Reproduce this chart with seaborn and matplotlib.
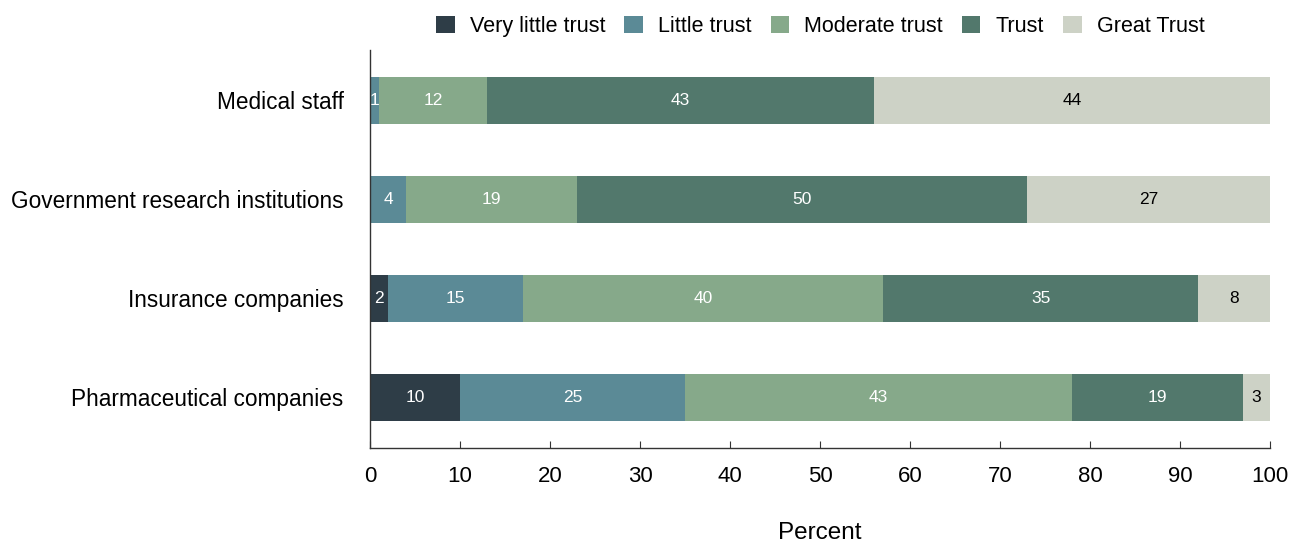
import numpy as np
import pandas as pd
import matplotlib
matplotlib.use("Agg")
import matplotlib.pyplot as plt
import seaborn as sns

categories = ["Medical staff", "Government research institutions",
              "Insurance companies", "Pharmaceutical companies"]
levels = ["Very little trust", "Little trust", "Moderate trust", "Trust", "Great Trust"]
very_little = [0, 0, 2, 10]
little = [1, 4, 15, 25]
moderate = [12, 19, 40, 43]
trust = [43, 50, 35, 19]
great = [44, 27, 8, 3]
colors = ["#2e3d47", "#5b8a96", "#86a98a", "#52786c", "#cdd2c6"]
text_colors = ["white", "white", "white", "white", "black"]

sns.set_style("ticks")
plt.rcParams["font.family"] = ["Liberation Sans", "DejaVu Sans"]
plt.rcParams["text.color"] = "black"
plt.rcParams["xtick.color"] = "black"
plt.rcParams["ytick.color"] = "black"
plt.rcParams["axes.labelcolor"] = "black"

df = pd.DataFrame({"category": categories, levels[0]: very_little, levels[1]: little,
                   levels[2]: moderate, levels[3]: trust, levels[4]: great})
cum = df[levels].cumsum(axis=1)

fig, ax = plt.subplots(figsize=(13, 5.43), dpi=100)
fig.subplots_adjust(left=0.2846, right=0.977, bottom=0.175, top=0.908)

# draw cumulative totals from the largest down so the segments stack
for lvl, col in reversed(list(zip(levels, colors))):
    tmp = pd.DataFrame({"category": categories, "value": cum[lvl]})
    sns.barplot(data=tmp, y="category", x="value", color=col, width=0.47,
                saturation=1, ax=ax, label=lvl, edgecolor="none")

# segment labels
for i in range(len(categories)):
    start = 0
    for lvl, tc in zip(levels, text_colors):
        v = df.loc[i, lvl]
        if v > 0:
            ax.text(start + v / 2, i, str(v), ha="center", va="center",
                    color=tc, fontsize=12.5)
        start += v

ax.set_xlim(0, 100)
ax.set_ylim(3.51, -0.51)
ax.set_xticks(range(0, 101, 10))
ax.tick_params(axis="x", direction="in", length=5, labelsize=16, pad=13, color="#333333")
ax.tick_params(axis="y", length=0, labelsize=16.3, pad=19)
ax.set_ylabel("")
ax.set_xlabel("Percent", fontsize=17.5, labelpad=25)
sns.despine(ax=ax)
for s in ["left", "bottom"]:
    ax.spines[s].set_color("#333333")
    ax.spines[s].set_linewidth(1.0)

if ax.get_legend():
    ax.get_legend().remove()
handles, labels = ax.get_legend_handles_labels()
order = [labels.index(l) for l in levels]
fig.legend([handles[k] for k in order], levels, loc="upper center",
           bbox_to_anchor=(0.631, 1.006), ncol=5, frameon=False, fontsize=15.5,
           handlelength=0.85, handleheight=0.85, columnspacing=0.9, handletextpad=0.7)

fig.savefig("out.png", dpi=100)
